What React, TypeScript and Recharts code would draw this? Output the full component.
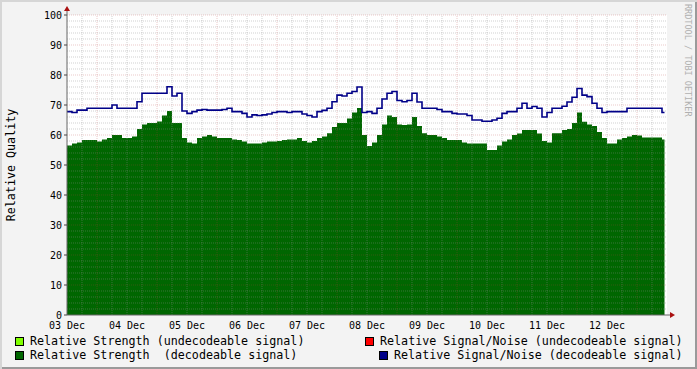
import React from 'react';
import { ComposedChart, Area, Line, XAxis, YAxis, ReferenceLine, ReferenceArea } from 'recharts';

// one sample every 2 hours, starting 03 Dec 00:00
const strength = [
  56.5, 57.2, 57.5, 58.3, 58.3, 58.3, 57.8, 58.5, 59, 60, 60, 59,
  59, 59.5, 62, 63.5, 64, 64, 64.5, 66.5, 68, 64, 64, 59,
  57.5, 57.2, 59, 59.5, 60, 59.5, 59, 59, 59, 58.5, 58.3, 57.8,
  57.2, 57.2, 57.2, 57.5, 57.8, 57.8, 58, 58.3, 58.5, 58.5, 59, 58,
  57.5, 58, 59, 59.5, 60.6, 62.7, 64, 64, 65.5, 67.5, 69, 60,
  56.3, 57.5, 60, 63.5, 66.5, 66, 63.5, 63.3, 63.5, 66, 63, 60.6,
  60, 60, 59.5, 59, 58.3, 58.3, 58.3, 57.5, 57.2, 57.2, 57.2, 57.2,
  55, 55, 56.5, 57.8, 58.5, 60, 60.5, 61.7, 61.7, 61.7, 60.5, 58,
  57.5, 60.6, 60.6, 61.7, 62, 64, 67.5, 64.4, 63.5, 63, 61, 59,
  57.2, 57.2, 58.5, 59, 59.5, 60, 59.8, 59.2, 59.2, 59.2, 59.2, 58.5,
];

const snr = [
  67.8, 67.5, 68.3, 68.3, 68.9, 68.9, 68.9, 68.9, 68.9, 70, 68.9, 68.9,
  68.9, 68.9, 71.1, 73.9, 73.9, 73.9, 73.9, 73.9, 76.1, 73, 73.9, 68,
  67.2, 67.8, 68.3, 68.5, 68.3, 68.3, 68.3, 68.5, 68.9, 67.8, 67.8, 67.2,
  66, 66.7, 66.5, 66.7, 67, 67.5, 67.8, 67.8, 67.5, 67.8, 67.8, 67,
  66.5, 66, 67.8, 68.2, 68.9, 71.1, 73.3, 73, 73.9, 74.5, 76, 67.5,
  67.8, 67.2, 68.9, 72, 73.9, 74.5, 71.5, 71.1, 71.5, 73.9, 71, 68.9,
  68.9, 68.9, 68.5, 67.8, 67.8, 67.2, 67, 67, 66.5, 65, 65, 64.6,
  64.6, 65, 65.6, 67.2, 67.8, 67.8, 68.9, 70.6, 68.9, 69.5, 68.9, 66,
  67.5, 68.9, 68.9, 69.6, 71, 72.6, 75.5, 73.3, 72.8, 70.6, 68.9, 67.5,
  67.8, 67.8, 67.8, 67.8, 68.9, 68.9, 68.9, 68.9, 68.9, 68.9, 68.9, 67.5,
];

const dayLabels = ['03 Dec', '04 Dec', '05 Dec', '06 Dec', '07 Dec', '08 Dec', '09 Dec', '10 Dec', '11 Dec', '12 Dec'];
const dayTicks = [0, 24, 48, 72, 96, 120, 144, 168, 192, 216];
const yTicks = [0, 10, 20, 30, 40, 50, 60, 70, 80, 90, 100];

const data = strength.map((s, i) => ({ h: i * 2, strength: s, snr: snr[i] }));
// close the last step
data.push({ h: 239, strength: strength[strength.length - 1], snr: snr[snr.length - 1] });

const hMinor: number[] = [];
for (let v = 2; v < 100; v += 2) if (v % 10 !== 0) hMinor.push(v);
const hMajor = [10, 20, 30, 40, 50, 60, 70, 80, 90, 100];
const vMinor: number[] = [];
for (let h = 6; h < 240; h += 6) if ((h - 12) % 24 !== 0) vMinor.push(h);
const vMajor = dayTicks.map((d) => d + 12);

const FONT = '"DejaVu Sans Mono", monospace';
const MINOR = 'rgba(140,140,140,0.4)';
const MAJOR = 'rgba(180,60,60,0.28)';

const legend = [
  { x: 15, y: 335, box: '#80ff00', text: 'Relative Strength (undecodeable signal)' },
  { x: 15, y: 349, box: '#006600', text: 'Relative Strength  (decodeable signal)' },
  { x: 365, y: 335, box: '#ff0000', text: 'Relative Signal/Noise (undecodeable signal)' },
  { x: 379, y: 349, box: '#000088', text: 'Relative Signal/Noise (decodeable signal)' },
];

export default function App() {
  return (
    <div
      style={{
        position: 'absolute',
        left: 0,
        top: 0,
        width: 697,
        height: 369,
        background: '#f3f3f3',
        boxShadow: 'inset 2px 2px 0 #d6d6d6, inset -2px -2px 0 #9a9a9a',
        fontFamily: FONT,
      }}
    >
      <ComposedChart
        width={697}
        height={369}
        data={data}
        margin={{ top: 15, right: 30, left: 27, bottom: 34 }}
        style={{ position: 'absolute', left: 0, top: 0 }}
      >
        <XAxis
          dataKey="h"
          type="number"
          domain={[0, 240]}
          ticks={dayTicks}
          tickFormatter={(v: number) => dayLabels[dayTicks.indexOf(v)]}
          axisLine={{ stroke: '#666' }}
          tickLine={false}
          tick={{ fontSize: 10, fill: '#000', fontFamily: FONT }}
          tickMargin={1}
          height={20}
          allowDataOverflow
        />
        <YAxis
          type="number"
          domain={[0, 100]}
          ticks={yTicks}
          width={40}
          axisLine={{ stroke: '#666' }}
          tickLine={{ stroke: '#444' }}
          tickSize={3}
          tick={{ fontSize: 10, fill: '#000', fontFamily: FONT }}
        />
        <ReferenceArea x1={0} x2={240} y1={0} y2={100} fill="#ffffff" fillOpacity={1} stroke="none" />
        <Area
          type="stepAfter"
          dataKey="strength"
          fill="#006600"
          fillOpacity={1}
          stroke="none"
          isAnimationActive={false}
          baseValue={0}
        />
        {hMinor.map((v) => (
          <ReferenceLine key={'hm' + v} y={v} stroke={MINOR} strokeDasharray="1 1" />
        ))}
        {vMinor.map((v) => (
          <ReferenceLine key={'vm' + v} x={v} stroke={MINOR} strokeDasharray="1 1" />
        ))}
        {hMajor.map((v) => (
          <ReferenceLine key={'hM' + v} y={v} stroke={MAJOR} strokeDasharray="1 1" />
        ))}
        {vMajor.map((v) => (
          <ReferenceLine key={'vM' + v} x={v} stroke={MAJOR} strokeDasharray="1 1" />
        ))}
        <Line
          type="stepAfter"
          dataKey="snr"
          stroke="#000088"
          strokeWidth={1.6}
          dot={false}
          isAnimationActive={false}
        />
      </ComposedChart>
      <svg width={697} height={369} style={{ position: 'absolute', left: 0, top: 0, pointerEvents: 'none' }}>
        <line x1={67} y1={15} x2={67} y2={9} stroke="#666" />
        <polygon points="64,11 70,11 67,6" fill="#aa1111" />
        <line x1={667} y1={315} x2={672} y2={315} stroke="#666" />
        <polygon points="670,312 670,318 675,315" fill="#aa1111" />
        <text
          transform="translate(15,165) rotate(-90)"
          textAnchor="middle"
          fontSize={11.7}
          fontFamily={FONT}
          fill="#000"
        >
          Relative Quality
        </text>
        <text
          transform="translate(685,4) rotate(90)"
          fontSize={8.5}
          fontFamily={FONT}
          fill="#b0b0b0"
        >
          RRDTOOL / TOBI OETIKER
        </text>
      </svg>
      {legend.map((l) => (
        <div
          key={l.text}
          style={{ position: 'absolute', left: l.x, top: l.y, height: 12, display: 'flex', alignItems: 'center' }}
        >
          <div
            style={{
              width: 7,
              height: 7,
              background: l.box,
              border: '1px solid #000',
              marginRight: 6,
              marginTop: 1,
            }}
          />
          <span style={{ fontSize: 11.7, lineHeight: '12px', whiteSpace: 'pre', color: '#000' }}>{l.text}</span>
        </div>
      ))}
    </div>
  );
}
